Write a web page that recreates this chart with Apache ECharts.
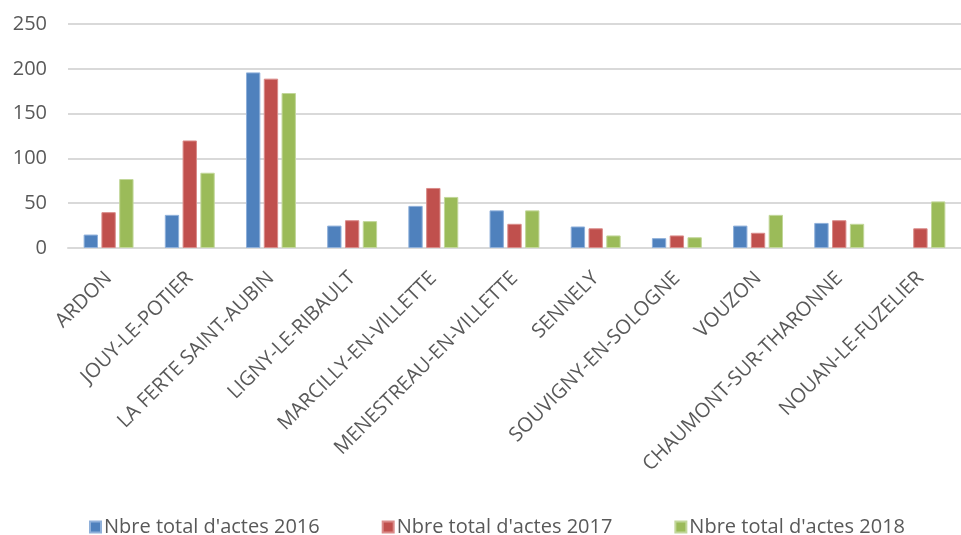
<!DOCTYPE html>
<html>
<head>
<meta charset="utf-8">
<script src="https://cdn.jsdelivr.net/npm/echarts@6/dist/echarts.min.js"></script>
<style>
html,body{margin:0;padding:0;background:#fff;}
#chart{width:961px;height:535px;}
</style>
</head>
<body>
<div id="chart"></div>
<script>
const categories = ["ARDON","JOUY-LE-POTIER","LA FERTE SAINT-AUBIN","LIGNY-LE-RIBAULT","MARCILLY-EN-VILLETTE","MENESTREAU-EN-VILLETTE","SENNELY","SOUVIGNY-EN-SOLOGNE","VOUZON","CHAUMONT-SUR-THARONNE","NOUAN-LE-FUZELIER"];
const seriesNames = ["Nbre total d'actes 2016","Nbre total d'actes 2017","Nbre total d'actes 2018"];
const actes2016 = [15, 37, 196, 25, 47, 42, 24, 11, 25, 28, null];
const actes2017 = [40, 120, 189, 31, 67, 27, 22, 14, 17, 31, 22];
const actes2018 = [77, 84, 173, 30, 57, 42, 14, 12, 37, 27, 52];
const yTicks = {min: 0, max: 250, interval: 50};

const colors = ['#4F81BD', '#C0504D', '#9BBB59'];
const borders = ['#8FB0DA', '#DA8B89', '#C2D79A'];
const font = '"Open Sans", "Liberation Sans", sans-serif';
const txt = '#595959';

const chart = echarts.init(document.getElementById('chart'));
const data = [actes2016, actes2017, actes2018];
chart.setOption({
  animation: false,
  color: colors,
  textStyle: {fontFamily: font},
  grid: {left: 68, right: -14, top: 24, bottom: 287, containLabel: false},
  legend: {
    data: seriesNames,
    left: 89,
    top: 517,
    padding: 0,
    itemWidth: 11,
    itemHeight: 11,
    itemGap: 62,
    icon: 'rect',
    textStyle: {fontFamily: font, fontSize: 20, color: txt, padding: [0, 0, 0, -2]}
  },
  xAxis: {
    type: 'category',
    data: categories,
    axisLine: {show: true, lineStyle: {color: '#D9D9D9', width: 2}},
    axisTick: {show: false},
    axisLabel: {rotate: 45, interval: 0, margin: 27, fontFamily: font, fontSize: 20, color: txt}
  },
  yAxis: {
    type: 'value',
    min: yTicks.min, max: yTicks.max, interval: yTicks.interval,
    axisLine: {show: false},
    axisTick: {show: false},
    axisLabel: {margin: 21, fontFamily: font, fontSize: 20, color: txt},
    splitLine: {lineStyle: {color: '#D9D9D9', width: 2}}
  },
  series: data.map((d, i) => ({
    name: seriesNames[i],
    type: 'bar',
    data: d,
    barGap: '24%',
    barCategoryGap: '38.5%',
    itemStyle: {color: colors[i], borderColor: borders[i], borderWidth: 1}
  }))
});
</script>
</body>
</html>
